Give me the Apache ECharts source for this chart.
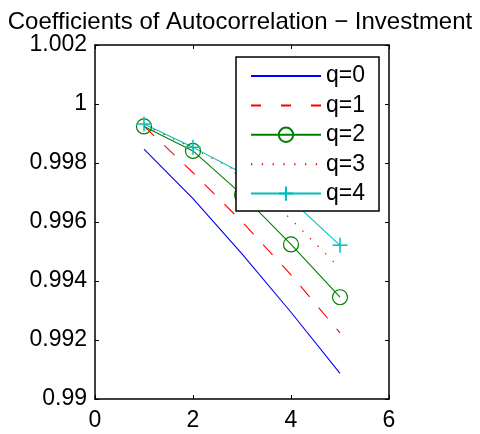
<!DOCTYPE html>
<html>
<head>
<meta charset="utf-8">
<script src="https://cdn.jsdelivr.net/npm/echarts@6/dist/echarts.min.js"></script>
<style>
  html, body { margin: 0; padding: 0; background: #fff; }
  #chart { width: 480px; height: 434px; }
</style>
</head>
<body>
<div id="chart"></div>
<script>
// Lag index and autocorrelation coefficients for each q
const lags = [1, 2, 3, 4, 5];
const q0 = [0.99847, 0.99679, 0.99492, 0.99294, 0.99087];
const q1 = [0.99925, 0.99767, 0.99601, 0.99421, 0.99224];
const q2 = [0.99924, 0.99841, 0.99693, 0.99524, 0.99345];
const q3 = [0.99929, 0.99850, 0.99764, 0.99609, 0.99444];
const q4 = [0.99932, 0.99853, 0.99766, 0.99675, 0.99521];

const seriesNames = ['q=0', 'q=1', 'q=2', 'q=3', 'q=4'];
const xTicks = [0, 2, 4, 6];
const yTicks = [0.99, 0.992, 0.994, 0.996, 0.998, 1, 1.002];

const FONT = '"Liberation Sans", Arial, Helvetica, sans-serif';
const TICK_FONT = 23;
const plusPath = 'path://M5,0 L5,10 M0,5 L10,5';

const pairs = vals => lags.map((x, i) => [x, vals[i]]);

function axisCommon(showLabels) {
  return {
    axisLine: { show: true, onZero: false, lineStyle: { color: '#000', width: 1.5 } },
    axisTick: { show: true, inside: true, length: 4, lineStyle: { color: '#000', width: 1 } },
    splitLine: { show: false },
    axisLabel: { show: showLabels, color: '#000', fontSize: TICK_FONT, fontFamily: FONT }
  };
}

const xBase = { type: 'value', min: xTicks[0], max: xTicks[xTicks.length - 1], interval: xTicks[1] - xTicks[0] };
const yBase = { type: 'value', min: yTicks[0], max: yTicks[yTicks.length - 1], interval: 0.002 };
const fmtY = v => String(+Number(v).toFixed(3));

// line-only legend entries: hide the marker part of the icon
const noMarker = { opacity: 0 };

const chart = echarts.init(document.getElementById('chart'), null, { renderer: 'canvas' });

chart.setOption({
  animation: false,
  backgroundColor: '#fff',
  title: {
    text: 'Coefficients of Autocorrelation \u2212 Investment',
    left: 'center',
    top: 5,
    textStyle: { color: '#000', fontSize: 24, fontWeight: 'normal', fontFamily: FONT }
  },
  grid: { left: 95, right: 91, top: 45, bottom: 35, containLabel: false },
  xAxis: [
    Object.assign({}, xBase, axisCommon(true), { position: 'bottom' }),
    Object.assign({}, xBase, axisCommon(false), { position: 'top' })
  ],
  yAxis: [
    Object.assign({}, yBase, axisCommon(true), { position: 'left' }),
    Object.assign({}, yBase, axisCommon(false), { position: 'right' })
  ],
  legend: {
    orient: 'vertical',
    left: 236,
    top: 57,
    padding: [7.5, 14, 6, 14],
    itemWidth: 70,
    itemHeight: 18,
    itemGap: 6.4,
    backgroundColor: '#fff',
    borderColor: '#000',
    borderWidth: 1.5,
    textStyle: { color: '#000', fontSize: TICK_FONT, fontFamily: FONT },
    data: [
      { name: seriesNames[0], itemStyle: noMarker },
      { name: seriesNames[1], itemStyle: noMarker, lineStyle: { type: [10, 20] } },
      { name: seriesNames[2] },
      { name: seriesNames[3], itemStyle: noMarker, lineStyle: { type: [1.3, 9.5] } },
      { name: seriesNames[4] }
    ]
  },
  series: [
    {
      name: seriesNames[0], type: 'line', data: pairs(q0),
      symbol: 'none', lineStyle: { color: '#0000ff', width: 1.1 },
      itemStyle: { color: '#0000ff' }
    },
    {
      name: seriesNames[1], type: 'line', data: pairs(q1),
      symbol: 'none', lineStyle: { color: '#ff0000', width: 1.1, type: [14, 14] },
      itemStyle: { color: '#ff0000' }
    },
    {
      name: seriesNames[2], type: 'line', data: pairs(q2),
      symbol: 'circle', symbolSize: 15,
      lineStyle: { color: '#008000', width: 1.1 },
      itemStyle: { color: 'transparent', borderColor: '#008000', borderWidth: 1.2 }
    },
    {
      name: seriesNames[3], type: 'line', data: pairs(q3),
      symbol: 'none', lineStyle: { color: '#ff0000', width: 1.3, type: [1.3, 9.4] },
      itemStyle: { color: '#ff0000' }
    },
    {
      name: seriesNames[4], type: 'line', data: pairs(q4),
      symbol: plusPath, symbolSize: 15,
      lineStyle: { color: '#00bfbf', width: 1.1 },
      itemStyle: { color: 'none', borderColor: '#00bfbf', borderWidth: 1.5 }
    }
  ]
});

// Label formatting for the left and bottom axes
chart.setOption({
  xAxis: [{ axisLabel: { margin: 10, formatter: v => String(v) } }, {}],
  yAxis: [{ axisLabel: { margin: 8, formatter: fmtY } }, {}]
});
</script>
</body>
</html>
